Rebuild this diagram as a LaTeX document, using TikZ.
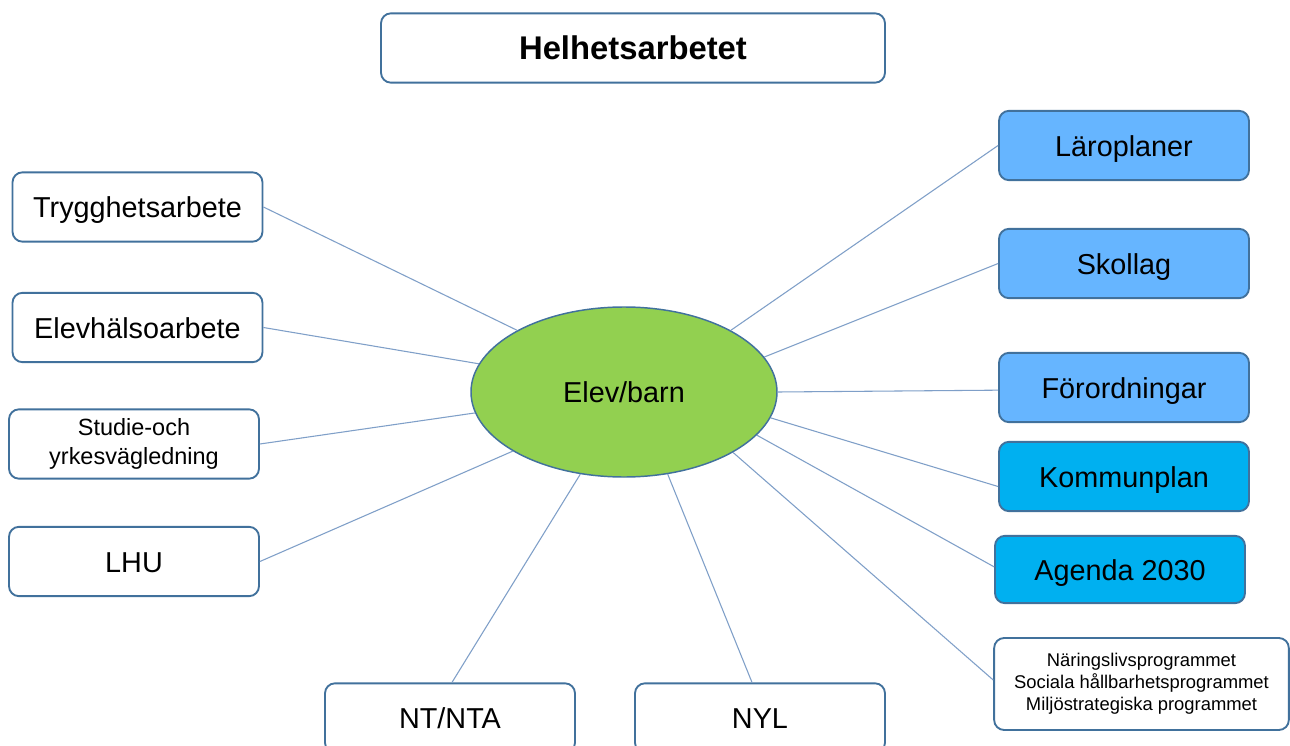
\documentclass[tikz,border=0pt]{standalone}
\usepackage{fontspec}
\usetikzlibrary{shapes.geometric}
\setmainfont{Liberation Sans}
\definecolor{bord}{HTML}{41719C}
\definecolor{conn}{HTML}{7F9FC8}
\definecolor{lblue}{HTML}{66B5FF}
\definecolor{cblue}{HTML}{00B0F0}
\definecolor{egreen}{HTML}{92D050}
\tikzset{
  box/.style={draw=bord, line width=1.4pt, rounded corners=7.5pt, fill=white,
    minimum width=187.5pt, minimum height=52pt, inner sep=0pt, align=center,
    font=\fontsize{21.6}{26}\selectfont},
  onebox/.style={box, text height=16pt, text depth=0pt},
  conline/.style={draw=conn, line width=0.8pt},
}
\begin{document}
\begin{tikzpicture}[x=0.75pt,y=-0.75pt]
\useasboundingbox (0,0) rectangle (1290,746);
\clip (0,0) rectangle (1290,746);
\fill[white] (0,0) rectangle (1290,746);

\node[box, minimum width=378pt, font=\fontsize{24.6}{30}\selectfont\bfseries] (top) at (633,48) {Helhetsarbetet};

\node[draw=bord, line width=1.1pt, fill=egreen, ellipse, minimum width=229.5pt, minimum height=127.5pt, inner sep=0pt,
  font=\fontsize{21.6}{26}\selectfont] (e) at (624,392) {Elev/barn};

\node[onebox] (tr) at (137.5,207) {Trygghetsarbete};
\node[onebox] (eh) at (137.5,327.5) {Elevhälsoarbete};
\node[box, font=\fontsize{17.6}{21.75}\selectfont] (sy) at (134,444) {Studie-och\\yrkesvägledning};
\node[onebox] (lhu) at (134,561.5) {LHU};
\node[onebox] (nt) at (450,718) {NT/NTA};
\node[onebox] (nyl) at (760,718) {NYL};

\node[onebox, fill=lblue] (lp) at (1124,145.5) {Läroplaner};
\node[onebox, fill=lblue] (sk) at (1124,263.5) {Skollag};
\node[onebox, fill=lblue] (fo) at (1124,387.5) {Förordningar};
\node[onebox, fill=cblue] (ko) at (1124,476.5) {Kommunplan};
\node[onebox, fill=cblue, minimum height=50.5pt] (ag) at (1120,569.5) {Agenda 2030};
\node[box, minimum width=221pt, minimum height=69pt, font=\fontsize{13.8}{16.5}\selectfont] (np) at (1141.5,684)
  {Näringslivsprogrammet\\Sociala hållbarhetsprogrammet\\Miljöstrategiska programmet};

\draw[conline] (tr.east) -- (e.150);
\draw[conline] (eh.east) -- (e.169.5);
\draw[conline] (sy.east) -- (e.188.7);
\draw[conline] (lhu.east) -- (e.208);
\draw[conline] ([xshift=1.5pt]nt.north) -- (e.242);
\draw[conline] ([xshift=-6pt]nyl.north) -- (e.298);
\draw[conline] (lp.west) -- (e.30.4);
\draw[conline] (sk.west) -- (e.14.6);
\draw[conline] ([yshift=-2pt]fo.west) -- (e.0);
\draw[conline] ([yshift=-7.5pt]ko.west) -- (e.-10.4);
\draw[conline] ([yshift=2pt]ag.west) -- (e.-18);
\draw[conline] ([yshift=3pt]np.west) -- (e.-29.5);
\end{tikzpicture}
\end{document}
